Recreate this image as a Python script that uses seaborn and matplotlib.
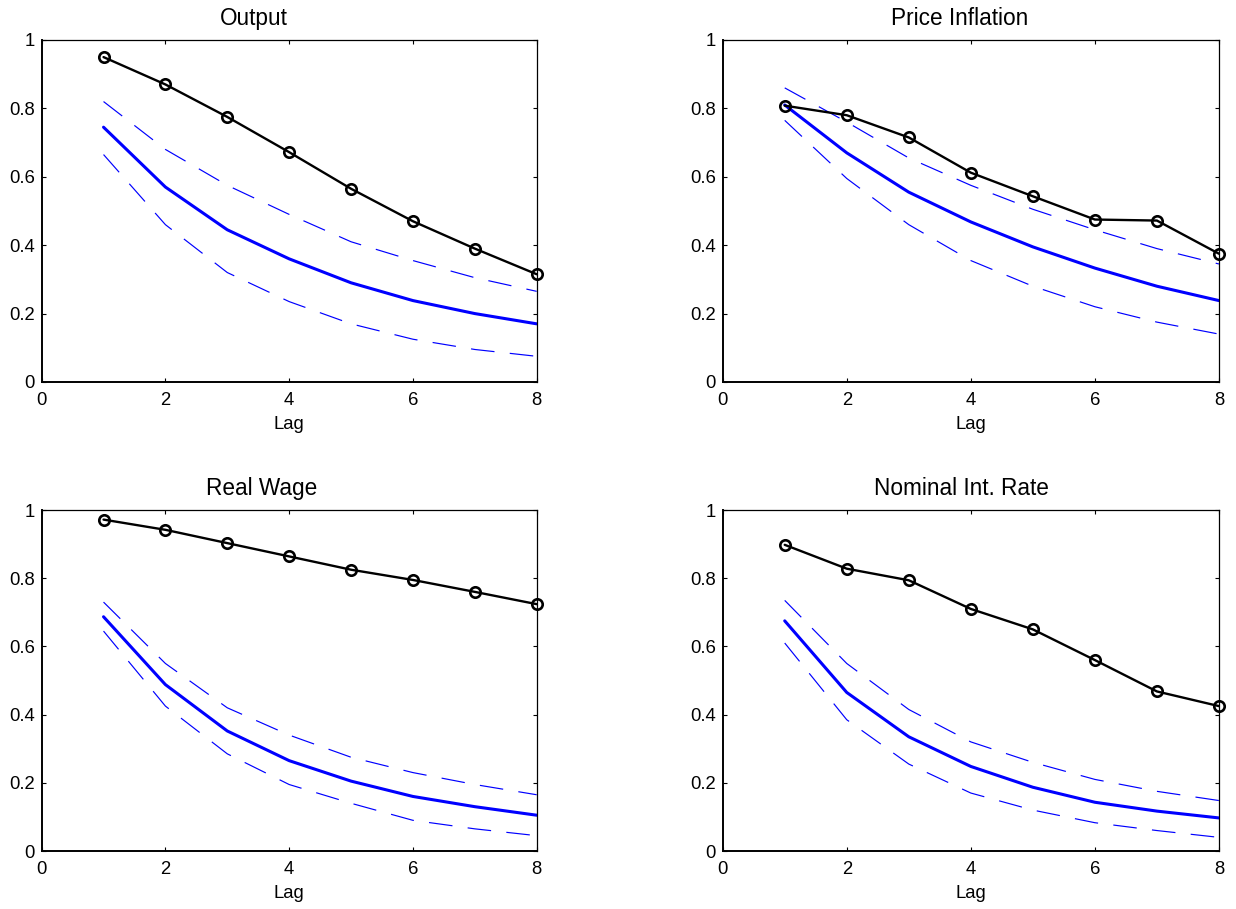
import numpy as np
import pandas as pd
import seaborn as sns
import matplotlib
matplotlib.use("Agg")
import matplotlib.pyplot as plt

lags = [1, 2, 3, 4, 5, 6, 7, 8]
titles = ["Output", "Price Inflation", "Real Wage", "Nominal Int. Rate"]

output_data = [0.950, 0.870, 0.775, 0.672, 0.565, 0.470, 0.390, 0.315]
output_model = [0.745, 0.570, 0.445, 0.360, 0.290, 0.238, 0.200, 0.170]
output_upper = [0.820, 0.680, 0.575, 0.490, 0.410, 0.355, 0.305, 0.265]
output_lower = [0.665, 0.460, 0.320, 0.235, 0.170, 0.125, 0.095, 0.075]

infl_data = [0.808, 0.780, 0.715, 0.612, 0.543, 0.475, 0.472, 0.375]
infl_model = [0.810, 0.670, 0.555, 0.468, 0.395, 0.333, 0.280, 0.238]
infl_upper = [0.860, 0.760, 0.655, 0.575, 0.505, 0.445, 0.390, 0.345]
infl_lower = [0.765, 0.595, 0.460, 0.355, 0.280, 0.220, 0.175, 0.140]

wage_data = [0.972, 0.942, 0.903, 0.864, 0.825, 0.795, 0.760, 0.724]
wage_model = [0.687, 0.488, 0.352, 0.265, 0.205, 0.160, 0.130, 0.105]
wage_upper = [0.730, 0.550, 0.420, 0.340, 0.275, 0.230, 0.195, 0.165]
wage_lower = [0.645, 0.425, 0.285, 0.195, 0.140, 0.090, 0.065, 0.045]

rate_data = [0.898, 0.828, 0.794, 0.710, 0.650, 0.560, 0.468, 0.425]
rate_model = [0.675, 0.465, 0.335, 0.248, 0.187, 0.143, 0.117, 0.097]
rate_upper = [0.735, 0.550, 0.415, 0.320, 0.260, 0.210, 0.175, 0.148]
rate_lower = [0.610, 0.385, 0.255, 0.170, 0.120, 0.083, 0.060, 0.040]

panels = [
    (output_data, output_model, output_upper, output_lower),
    (infl_data, infl_model, infl_upper, infl_lower),
    (wage_data, wage_model, wage_upper, wage_lower),
    (rate_data, rate_model, rate_upper, rate_lower),
]

sns.set_style("white")
plt.rcParams["font.family"] = ["Liberation Sans", "DejaVu Sans"]
plt.rcParams["text.color"] = "black"
plt.rcParams["axes.labelcolor"] = "black"
plt.rcParams["axes.titlecolor"] = "black"

fig = plt.figure(figsize=(12.36, 9.09), dpi=100)
positions = [
    [0.0337, 0.5798, 0.4005, 0.3762],
    [0.5847, 0.5798, 0.4015, 0.3762],
    [0.0337, 0.0638, 0.4005, 0.3751],
    [0.5847, 0.0638, 0.4015, 0.3751],
]
title_x = [0.428, 0.478, 0.445, 0.482]

dash = (0, (20, 13))
for pos, title, tx, (d, m, u, l) in zip(positions, titles, title_x, panels):
    ax = fig.add_axes(pos)
    df = pd.DataFrame({"Lag": lags, "data": d, "model": m, "upper": u, "lower": l})
    sns.lineplot(data=df, x="Lag", y="upper", ax=ax, color="blue", lw=0.85,
                 linestyle=dash)
    sns.lineplot(data=df, x="Lag", y="lower", ax=ax, color="blue", lw=0.85,
                 linestyle=dash)
    sns.lineplot(data=df, x="Lag", y="model", ax=ax, color="blue", lw=2.2)
    sns.lineplot(data=df, x="Lag", y="data", ax=ax, color="black", lw=1.7,
                 marker="o", markersize=7.5, markerfacecolor="none",
                 markeredgecolor="black", markeredgewidth=1.9, clip_on=False)
    ax.set_xlim(0, 8)
    ax.set_ylim(0, 1)
    ax.set_xticks([0, 2, 4, 6, 8])
    ax.set_yticks([0, 0.2, 0.4, 0.6, 0.8, 1])
    ax.set_yticklabels(["0", "0.2", "0.4", "0.6", "0.8", "1"])
    ax.set_xlabel("Lag", fontsize=13.3, labelpad=4.5, color="black")
    ax.set_ylabel("")
    ax.set_title(title, fontsize=16.3, pad=10.5, x=tx, color="black")
    ax.tick_params(direction="in", length=3, width=0.8, top=True, right=True,
                   bottom=True, left=True, labelsize=13.3, colors="black")
    ax.tick_params(axis="x", pad=7.5)
    ax.tick_params(axis="y", pad=5)
    for side, s in ax.spines.items():
        s.set_visible(True)
        s.set_color("black")
        s.set_linewidth(1.4 if side in ("left", "bottom") else 0.9)

fig.savefig("out.png", dpi=100, facecolor="white")
